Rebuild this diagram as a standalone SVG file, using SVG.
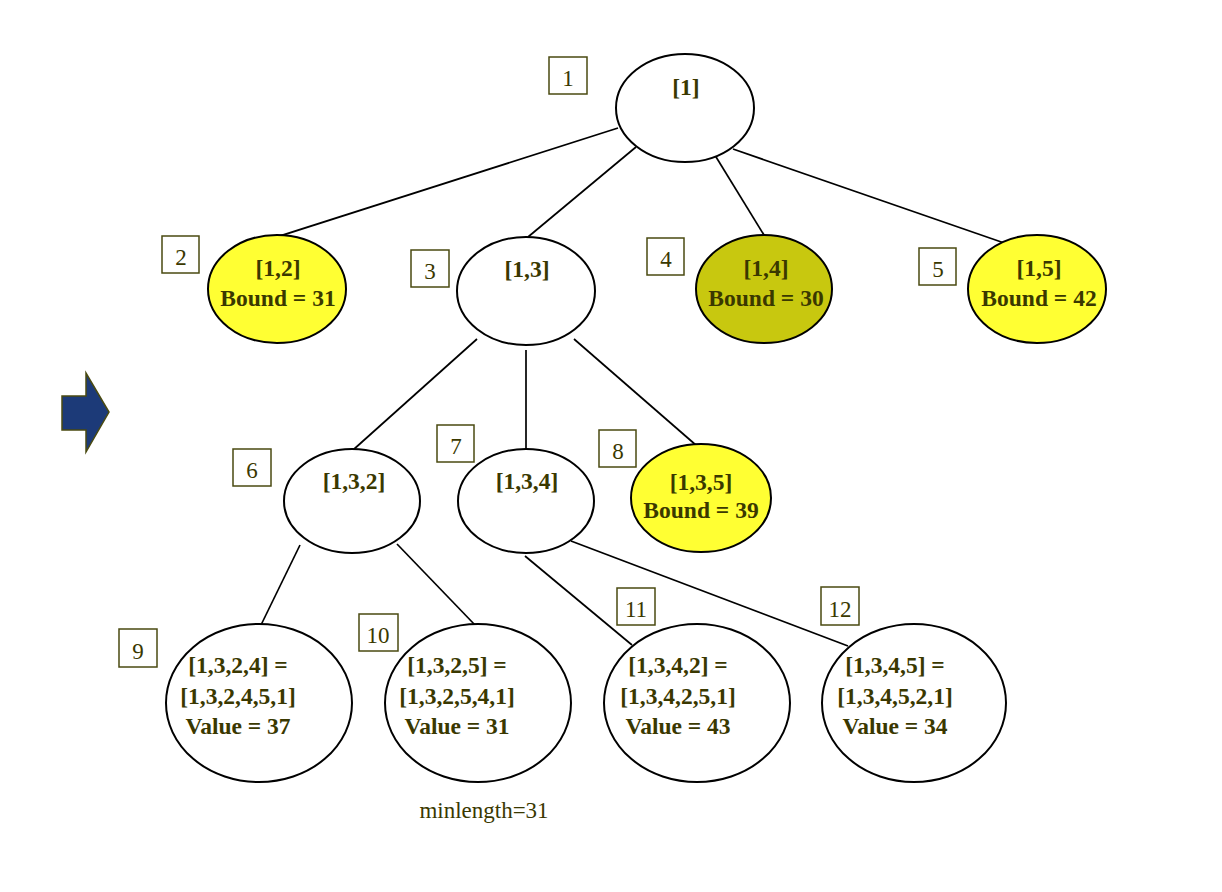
<svg xmlns="http://www.w3.org/2000/svg" width="1222" height="892" viewBox="0 0 1222 892">
<style>
.n{stroke:#000;stroke-width:2;fill:#fff}
.y{fill:#ffff33}
.o{fill:#c8c80f}
.b{fill:#fff;stroke:#4a4a10;stroke-width:1.5}
.t{font-family:"Liberation Serif",serif;font-weight:bold;font-size:23.5px;fill:#3a3800;text-anchor:middle}
.l{font-family:"Liberation Serif",serif;font-size:23px;fill:#3a3800;text-anchor:middle}
.c line{stroke:#000;stroke-width:1.7}
</style>
<rect width="1222" height="892" fill="#fff"/>
<g class="c" id="connectors">
<line x1="618" y1="128" x2="236" y2="250"/>
<line x1="636" y1="147" x2="528" y2="237"/>
<line x1="713" y1="152" x2="764" y2="235"/>
<line x1="733" y1="149" x2="1010" y2="245"/>
<line x1="477" y1="339" x2="353" y2="450"/>
<line x1="526" y1="350" x2="526" y2="450"/>
<line x1="574" y1="339" x2="697" y2="446"/>
<line x1="300" y1="545" x2="261" y2="625"/>
<line x1="397" y1="544" x2="475" y2="625"/>
<line x1="525" y1="556" x2="632" y2="645"/>
<line x1="571" y1="541" x2="848" y2="646"/>
</g>
<g id="arrow"><polygon points="62,396 86,396 86,373 109,412 86,452 86,430 62,430" fill="#1c3a78" stroke="#4a4a10" stroke-width="1.5"/></g>
<g id="n1"><rect class="b" x="549" y="57" width="38" height="37"/><text class="l" x="568" y="86">1</text>
<ellipse class="n" cx="685" cy="108" rx="69" ry="54"/><text class="t" x="686" y="95">[1]</text></g>
<g id="n2"><rect class="b" x="162" y="236" width="37" height="37"/><text class="l" x="181" y="265">2</text>
<ellipse class="n y" cx="277" cy="289" rx="69" ry="54"/><text class="t" x="278" y="276">[1,2]</text><text class="t" x="278" y="306">Bound = 31</text></g>
<g id="n3"><rect class="b" x="411" y="250" width="38" height="37"/><text class="l" x="430" y="279">3</text>
<ellipse class="n" cx="526" cy="291" rx="69" ry="54"/><text class="t" x="527" y="277">[1,3]</text></g>
<g id="n4"><rect class="b" x="647" y="238" width="37" height="37"/><text class="l" x="666" y="267">4</text>
<ellipse class="n o" cx="764" cy="289" rx="68" ry="54"/><text class="t" x="766" y="276">[1,4]</text><text class="t" x="766" y="306">Bound = 30</text></g>
<g id="n5"><rect class="b" x="919" y="248" width="37" height="37"/><text class="l" x="938" y="277">5</text>
<ellipse class="n y" cx="1037" cy="289" rx="69" ry="54"/><text class="t" x="1039" y="276">[1,5]</text><text class="t" x="1039" y="306">Bound = 42</text></g>
<g id="n6"><rect class="b" x="233" y="449" width="38" height="37"/><text class="l" x="252" y="478">6</text>
<ellipse class="n" cx="352" cy="501" rx="68" ry="52"/><text class="t" x="354" y="489">[1,3,2]</text></g>
<g id="n7"><rect class="b" x="437" y="425" width="37" height="37"/><text class="l" x="456" y="454">7</text>
<ellipse class="n" cx="526" cy="501" rx="68" ry="52"/><text class="t" x="527" y="489">[1,3,4]</text></g>
<g id="n8"><rect class="b" x="599" y="430" width="37" height="37"/><text class="l" x="618" y="459">8</text>
<ellipse class="n y" cx="701" cy="498" rx="70" ry="54"/><text class="t" x="701" y="490">[1,3,5]</text><text class="t" x="701" y="518">Bound = 39</text></g>
<g id="n9"><rect class="b" x="119" y="629" width="38" height="38"/><text class="l" x="138" y="659">9</text>
<ellipse class="n" cx="259" cy="703" rx="93" ry="79"/><text class="t" x="238" y="673">[1,3,2,4] =</text><text class="t" x="238" y="704">[1,3,2,4,5,1]</text><text class="t" x="238" y="734">Value = 37</text></g>
<g id="n10"><rect class="b" x="359" y="614" width="39" height="37"/><text class="l" x="378" y="643">10</text>
<ellipse class="n" cx="478" cy="703" rx="93" ry="79"/><text class="t" x="457" y="673">[1,3,2,5] =</text><text class="t" x="457" y="704">[1,3,2,5,4,1]</text><text class="t" x="457" y="734">Value = 31</text></g>
<g id="n11"><rect class="b" x="617" y="588" width="38" height="37"/><text class="l" x="636" y="617">11</text>
<ellipse class="n" cx="697" cy="703" rx="93" ry="79"/><text class="t" x="678" y="673">[1,3,4,2] =</text><text class="t" x="678" y="704">[1,3,4,2,5,1]</text><text class="t" x="678" y="734">Value = 43</text></g>
<g id="n12"><rect class="b" x="821" y="587" width="38" height="38"/><text class="l" x="840" y="617">12</text>
<ellipse class="n" cx="914" cy="703" rx="92" ry="79"/><text class="t" x="895" y="673">[1,3,4,5] =</text><text class="t" x="895" y="704">[1,3,4,5,2,1]</text><text class="t" x="895" y="734">Value = 34</text></g>
<text class="l" x="484" y="818">minlength=31</text>
</svg>
